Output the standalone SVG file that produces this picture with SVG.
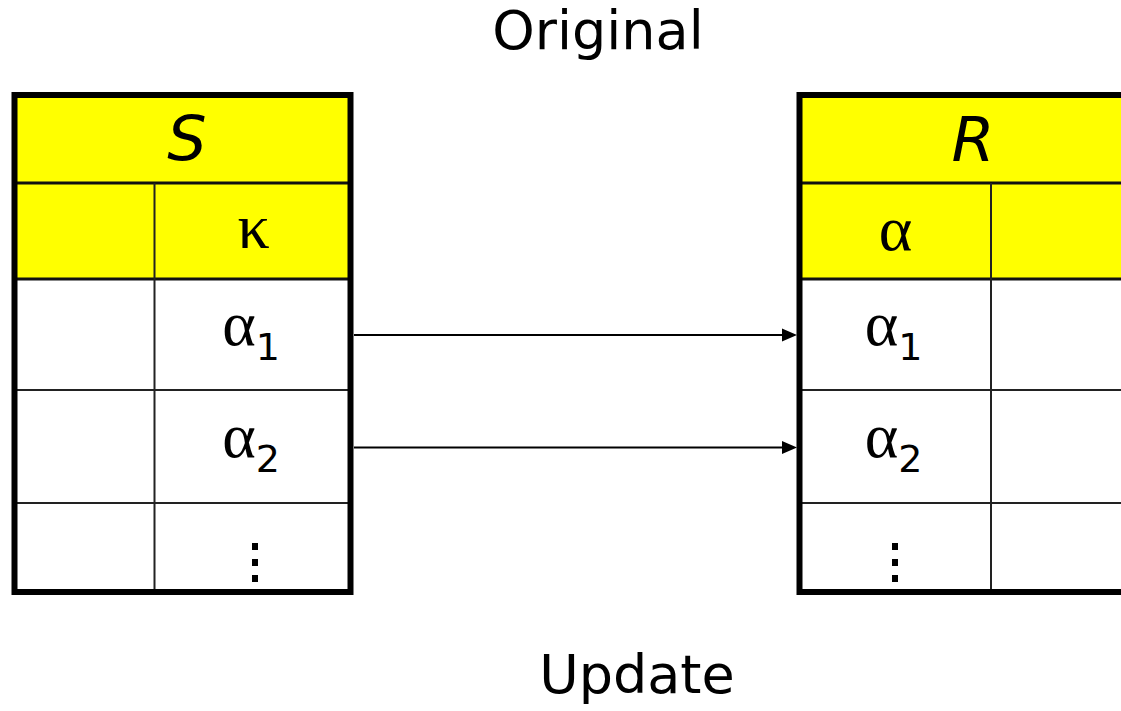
<svg xmlns="http://www.w3.org/2000/svg" width="1121" height="711" viewBox="0 0 1121 711">
  <style>
    .label { font-family: "DejaVu Sans", "Liberation Sans", sans-serif; fill: #000; }
    .title { font-size: 54px; }
    .name { font-size: 62px; font-style: italic; }
    .greek { font-family: "Liberation Serif", "DejaVu Serif", serif; font-size: 64px; }
    .sub { font-family: "DejaVu Sans", "Liberation Sans", sans-serif; font-size: 38px; }
    .frame { fill: none; stroke: #000; stroke-width: 6; }
    .head { fill: #ffff00; }
    .body { fill: #ffffff; }
    .rule { stroke: #111; stroke-width: 3; }
    .thin { stroke: #222; stroke-width: 2; }
    .conn { stroke: #000; stroke-width: 2; fill: none; }
  </style>
  <defs>
    <!-- filled triangular head, sized in user units -->
    <path id="tri" d="M0,0 L15,6.5 L0,13 Z"/>
  </defs>

  <rect width="1121" height="711" fill="#fff"/>

  <text class="label title" x="598" y="49" text-anchor="middle">Original</text>
  <text class="label title" x="637" y="693" text-anchor="middle" font-size="56">Update</text>

  <!-- table S -->
  <g id="table-S">
    <rect class="body" x="14.5" y="95" width="336" height="497"/>
    <rect class="head" x="14.5" y="95" width="336" height="184"/>
    <line class="rule" x1="14.5" y1="183" x2="350.5" y2="183"/>
    <line class="rule" x1="14.5" y1="279" x2="350.5" y2="279"/>
    <line class="thin" x1="14.5" y1="390" x2="350.5" y2="390"/>
    <line class="thin" x1="14.5" y1="503" x2="350.5" y2="503"/>
    <line class="thin" x1="154.5" y1="183" x2="154.5" y2="592"/>
    <rect class="frame" x="14.5" y="95" width="336" height="497"/>
    <text class="label name" x="187" y="160" text-anchor="middle">S</text>
    <text class="label greek" x="253.5" y="248" text-anchor="middle">κ</text>
    <text class="label greek" x="251" y="345" text-anchor="middle">α<tspan class="sub" dy="15">1</tspan></text>
    <text class="label greek" x="251" y="457" text-anchor="middle">α<tspan class="sub" dy="15">2</tspan></text>
    <rect x="252" y="543" width="6" height="7"/>
    <rect x="252" y="559" width="6" height="7"/>
    <rect x="252" y="575" width="6" height="7"/>
  </g>

  <!-- table R (continues past the right edge) -->
  <g id="table-R">
    <rect class="body" x="799.5" y="95" width="340" height="497"/>
    <rect class="head" x="799.5" y="95" width="340" height="184"/>
    <line class="rule" x1="799.5" y1="183" x2="1140" y2="183"/>
    <line class="rule" x1="799.5" y1="279" x2="1140" y2="279"/>
    <line class="thin" x1="799.5" y1="390" x2="1140" y2="390"/>
    <line class="thin" x1="799.5" y1="503" x2="1140" y2="503"/>
    <line class="thin" x1="991" y1="183" x2="991" y2="592"/>
    <rect class="frame" x="799.5" y="95" width="340" height="497"/>
    <text class="label name" x="973" y="161" text-anchor="middle">R</text>
    <text class="label greek" x="895.5" y="250" text-anchor="middle">α</text>
    <text class="label greek" x="893.5" y="345" text-anchor="middle">α<tspan class="sub" dy="15">1</tspan></text>
    <text class="label greek" x="893.5" y="457" text-anchor="middle">α<tspan class="sub" dy="15">2</tspan></text>
    <rect x="892" y="543" width="6" height="7"/>
    <rect x="892" y="559" width="6" height="7"/>
    <rect x="892" y="575" width="6" height="7"/>
  </g>

  <g id="connectors">
    <line class="conn" x1="354" y1="335" x2="784" y2="335"/>
    <use href="#tri" x="782" y="328.5"/>
    <line class="conn" x1="354" y1="447.5" x2="784" y2="447.5"/>
    <use href="#tri" x="782" y="441"/>
  </g>
</svg>
